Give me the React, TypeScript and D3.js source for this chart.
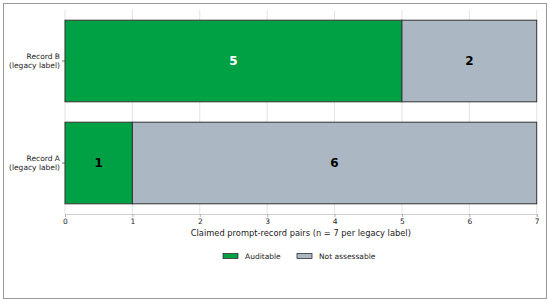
import { useEffect, useRef } from "react";
import * as d3 from "d3";

const RECORDS = ["Record B", "Record A"];
const AUDITABLE = [5, 1];
const NOT_ASSESSABLE = [2, 6];
const X_TICKS = [0, 1, 2, 3, 4, 5, 6, 7];
const SERIES = ["Auditable", "Not assessable"];
const COLORS = ["#00A145", "#ABB8C4"];

export default function App() {
  const svgRef = useRef<SVGSVGElement>(null);

  useEffect(() => {
    if (!svgRef.current) return;
    const svg = d3.select(svgRef.current);
    svg.selectAll("*").remove();

    const W = 550;
    const H = 302;
    const font = "DejaVu Sans, sans-serif";
    const margin = { top: 10, right: 13.3, bottom: 88, left: 65 };
    const plotW = W - margin.left - margin.right;
    const plotH = H - margin.top - margin.bottom;

    // outer frame
    svg.append("rect")
      .attr("x", 3.5).attr("y", 3.5)
      .attr("width", 543).attr("height", 295)
      .attr("fill", "white").attr("stroke", "#9a9a9a").attr("stroke-width", 1);

    const g = svg.append("g").attr("transform", `translate(${margin.left},${margin.top})`);

    const x = d3.scaleLinear().domain([0, 7]).range([0, plotW]);
    const y = d3.scaleBand<string>().domain(RECORDS).range([0, plotH])
      .paddingInner(0.2).paddingOuter(0.1);

    // grid
    g.selectAll("line.grid").data(X_TICKS).join("line")
      .attr("x1", (d) => x(d)).attr("x2", (d) => x(d))
      .attr("y1", 0).attr("y2", plotH)
      .attr("stroke", "#dcdcdc").attr("stroke-width", 0.8);

    // x axis
    g.append("g")
      .attr("transform", `translate(0,${plotH})`)
      .call(d3.axisBottom(x).tickValues(X_TICKS).tickFormat((d) => `${d}`).tickSize(3).tickPadding(2))
      .call((a) => a.select(".domain").attr("stroke", "#cfcfcf"))
      .call((a) => a.selectAll(".tick line").attr("stroke", "#b0b0b0"))
      .call((a) => a.selectAll(".tick text").attr("fill", "#222").attr("font-size", "7.5px").attr("font-family", font));

    // y tick marks + labels
    RECORDS.forEach((r) => {
      const cy = (y(r) ?? 0) + y.bandwidth() / 2;
      g.append("line")
        .attr("x1", -3).attr("x2", 0).attr("y1", cy).attr("y2", cy)
        .attr("stroke", "#555").attr("stroke-width", 0.8);
      const t = g.append("text")
        .attr("x", -5).attr("y", cy)
        .attr("text-anchor", "end")
        .attr("font-size", "7.5px").attr("font-family", font).attr("fill", "#222");
      t.append("tspan").attr("x", -5).attr("dy", "-0.25em").text(r);
      t.append("tspan").attr("x", -5).attr("dy", "1.15em").text("(legacy label)");
    });

    // bars
    RECORDS.forEach((r, i) => {
      const y0 = y(r) ?? 0;
      const segs = [
        { start: 0, value: AUDITABLE[i], color: COLORS[0] },
        { start: AUDITABLE[i], value: NOT_ASSESSABLE[i], color: COLORS[1] },
      ];
      segs.forEach((s, k) => {
        g.append("rect")
          .attr("x", x(s.start)).attr("y", y0)
          .attr("width", x(s.start + s.value) - x(s.start))
          .attr("height", y.bandwidth())
          .attr("fill", s.color).attr("stroke", "#333").attr("stroke-width", 1);
        const white = k === 0 && s.value >= 3;
        g.append("text")
          .attr("x", x(s.start + s.value / 2))
          .attr("y", y0 + y.bandwidth() / 2)
          .attr("dy", "0.36em")
          .attr("text-anchor", "middle")
          .attr("font-size", "12px").attr("font-weight", "bold")
          .attr("font-family", font)
          .attr("fill", white ? "white" : "black")
          .text(s.value);
      });
    });

    // x label
    svg.append("text")
      .attr("x", margin.left + plotW / 2).attr("y", 233)
      .attr("dy", "0.35em")
      .attr("text-anchor", "middle")
      .attr("font-size", "8.3px").attr("font-family", font).attr("fill", "#222")
      .text("Claimed prompt-record pairs (n = 7 per legacy label)");

    // legend
    const legendX = [223, 297];
    SERIES.forEach((s, i) => {
      svg.append("rect")
        .attr("x", legendX[i]).attr("y", 253.5)
        .attr("width", 15).attr("height", 5)
        .attr("fill", COLORS[i]).attr("stroke", "#333").attr("stroke-width", 0.8);
      svg.append("text")
        .attr("x", legendX[i] + 22).attr("y", 256)
        .attr("dy", "0.35em")
        .attr("font-size", "7.5px").attr("font-family", font).attr("fill", "#222")
        .text(s);
    });
  }, []);

  return (
    <div style={{ position: "absolute", left: 0, top: 0 }}>
      <svg ref={svgRef} width={550} height={302} />
    </div>
  );
}
